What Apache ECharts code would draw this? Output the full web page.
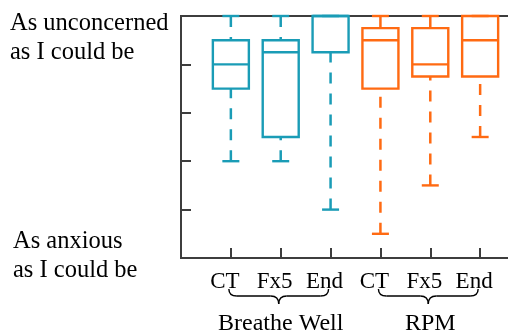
<!DOCTYPE html>
<html>
<head>
<meta charset="utf-8">
<script src="https://cdn.jsdelivr.net/npm/echarts@6/dist/echarts.min.js"></script>
<style>html,body{margin:0;padding:0;background:#fff}#c{width:508px;height:334px}</style>
</head>
<body>
<div id="c"></div>
<script>
// ---- data ----
const categories = ['CT', 'Fx5', 'End', 'CT', 'Fx5', 'End'];
const groupNames = ['Breathe Well', 'RPM'];
// [min, q1, median, q3, max]
const breatheWell = [[2, 3.5, 4, 4.5, 5], [2, 2.5, 4.25, 4.5, 5], [1, 4.25, 5, 5, 5]];
const rpm = [[0.5, 3.5, 4.5, 4.75, 5], [1.5, 3.75, 4, 4.75, 5], [2.5, 3.75, 4.5, 5, 5]];
const yTop = 'As unconcerned\nas I could be';
const yBottom = 'As anxious\nas I could be';

const TEAL = '#1a9cb6';
const ORANGE = '#ff6a12';
const AXIS = '#3d3d3d';
const FONT = '"Liberation Serif", "Times New Roman", serif';

const axisCats = [''].concat(categories).concat(['']);

function boxItem(color) {
  return function (params, api) {
    const idx = api.value(0);
    const x = api.coord([idx, 0])[0];
    const yMin = api.coord([idx, api.value(1)])[1];
    const yQ1 = api.coord([idx, api.value(2)])[1];
    const yMed = api.coord([idx, api.value(3)])[1];
    const yQ3 = api.coord([idx, api.value(4)])[1];
    const yMax = api.coord([idx, api.value(5)])[1];
    const hw = 18, cw = 8.5;
    const solid = { stroke: color, lineWidth: 2.4, fill: null };
    const dashed = { stroke: color, lineWidth: 2.5, lineDash: [11, 10], fill: null };
    const children = [];
    if (yMin - yQ1 > 0.5) children.push({ type: 'line', shape: { x1: x, y1: yMin, x2: x, y2: yQ1 }, style: dashed });
    if (yQ3 - yMax > 0.5) children.push({ type: 'line', shape: { x1: x, y1: yMax, x2: x, y2: yQ3 }, style: dashed });
    children.push({ type: 'line', shape: { x1: x - cw, y1: yMin, x2: x + cw, y2: yMin }, style: solid });
    children.push({ type: 'line', shape: { x1: x - cw, y1: yMax, x2: x + cw, y2: yMax }, style: solid });
    children.push({ type: 'rect', shape: { x: x - hw, y: yQ3, width: 2 * hw, height: yQ1 - yQ3 }, style: solid });
    children.push({ type: 'line', shape: { x1: x - hw, y1: yMed, x2: x + hw, y2: yMed }, style: solid });
    return { type: 'group', children: children };
  };
}

const chart = echarts.init(document.getElementById('c'), null, { renderer: 'canvas' });
const option = {
  backgroundColor: '#fff',
  animation: false,
  grid: { left: 181, top: 16, width: 349, height: 242, containLabel: false, outerBoundsMode: 'none', show: true, borderColor: AXIS, borderWidth: 2, backgroundColor: 'transparent' },
  title: [
    { text: yTop, left: 10, top: 9, padding: 0, textStyle: { fontFamily: FONT, fontSize: 24.5, fontWeight: 'normal', color: '#000', lineHeight: 29 } },
    { text: yBottom, left: 13, top: 227, padding: 0, textStyle: { fontFamily: FONT, fontSize: 24.5, fontWeight: 'normal', color: '#000', lineHeight: 29 } }
  ],
  xAxis: {
    type: 'category',
    data: axisCats,
    boundaryGap: false,
    axisLine: { show: true, lineStyle: { color: AXIS, width: 2 } },
    axisTick: { show: true, inside: true, length: 10, interval: 0, lineStyle: { color: AXIS, width: 2 } },
    axisLabel: { interval: 0, margin: 12, fontFamily: FONT, fontSize: 23, color: '#000', padding: [0, 12, 0, 0] },
    splitLine: { show: false }
  },
  yAxis: {
    type: 'value',
    min: 0, max: 5, interval: 1,
    axisLine: { show: true, lineStyle: { color: AXIS, width: 2 } },
    axisTick: { show: true, inside: true, length: 10, lineStyle: { color: AXIS, width: 2 } },
    axisLabel: { show: false },
    splitLine: { show: false }
  },
  series: [
    {
      name: groupNames[0], type: 'custom', renderItem: boxItem(TEAL), clip: false, z: 5,
      encode: { x: 0, y: [1, 2, 3, 4, 5] },
      data: breatheWell.map((v, i) => [i + 1].concat(v))
    },
    {
      name: groupNames[1], type: 'custom', renderItem: boxItem(ORANGE), clip: false, z: 5,
      encode: { x: 0, y: [1, 2, 3, 4, 5] },
      data: rpm.map((v, i) => [i + 4].concat(v))
    }
  ]
};
chart.setOption(option);

// braces and group labels positioned from the axis scale
const graphics = [];
const braceStyle = { stroke: '#000', lineWidth: 1.4, fill: null };
groupNames.forEach(function (name, g) {
  const a = chart.convertToPixel({ xAxisIndex: 0 }, g * 3 + 1);
  const b = chart.convertToPixel({ xAxisIndex: 0 }, g * 3 + 3);
  const x1 = a - 2, x2 = b - 2, xc = (x1 + x2) / 2;
  const yT = 289, yM = 296, yTip = 304;
  graphics.push({ type: 'bezierCurve', shape: { x1: x1, y1: yT, cpx1: x1, cpy1: yM, x2: x1 + 8, y2: yM }, style: braceStyle });
  graphics.push({ type: 'line', shape: { x1: x1 + 8, y1: yM, x2: xc - 8, y2: yM }, style: braceStyle });
  graphics.push({ type: 'bezierCurve', shape: { x1: xc - 8, y1: yM, cpx1: xc, cpy1: yM, x2: xc, y2: yTip }, style: braceStyle });
  graphics.push({ type: 'bezierCurve', shape: { x1: xc, y1: yTip, cpx1: xc, cpy1: yM, x2: xc + 8, y2: yM }, style: braceStyle });
  graphics.push({ type: 'line', shape: { x1: xc + 8, y1: yM, x2: x2 - 8, y2: yM }, style: braceStyle });
  graphics.push({ type: 'bezierCurve', shape: { x1: x2 - 8, y1: yM, cpx1: x2, cpy1: yM, x2: x2, y2: yT }, style: braceStyle });
  graphics.push({ type: 'text', x: (a + b) / 2, y: 312, style: { text: name, fontFamily: FONT, fontSize: 24, fill: '#000', align: 'center', verticalAlign: 'top' } });
});
chart.setOption({ graphic: graphics });
</script>
</body>
</html>
